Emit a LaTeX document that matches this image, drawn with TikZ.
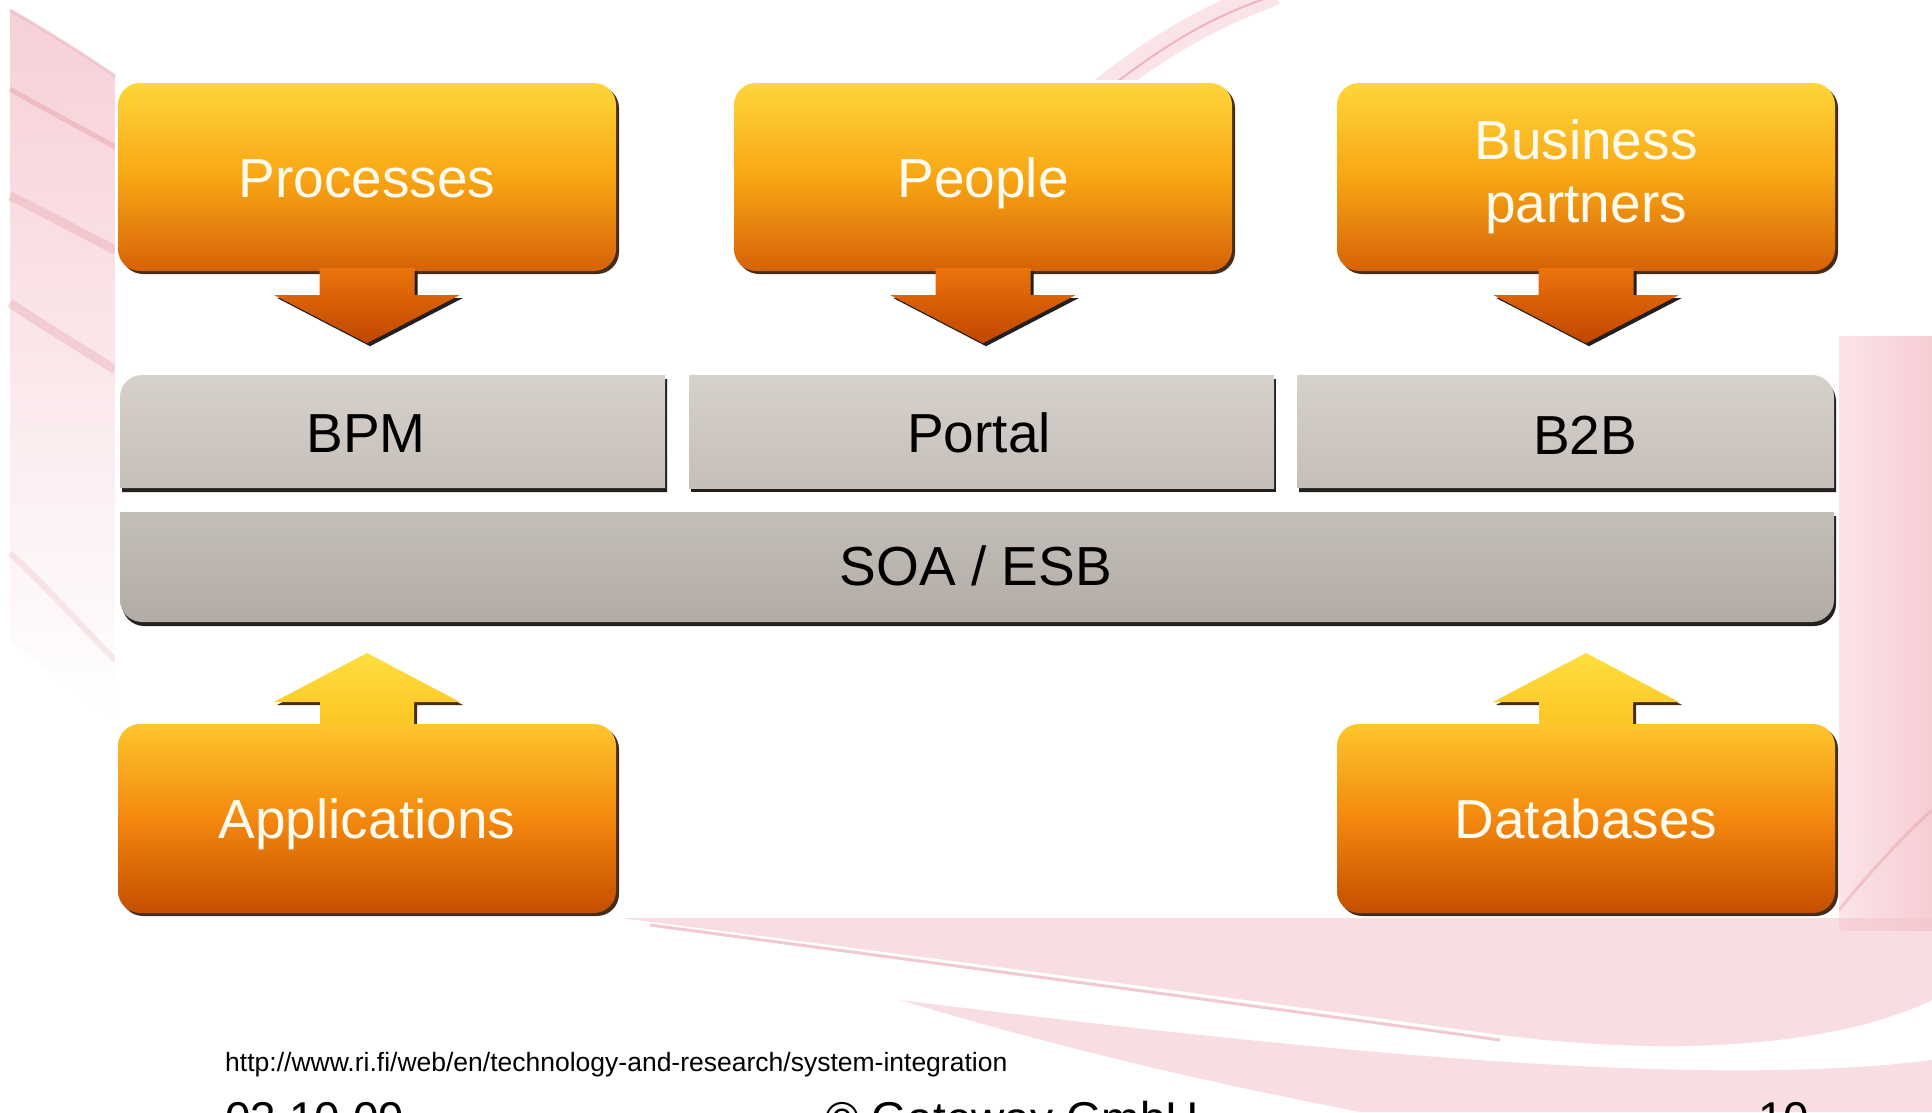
\documentclass[tikz,border=0pt]{standalone}
\usepackage{fontspec}
\setmainfont{Liberation Sans}
\usetikzlibrary{shadows}
\definecolor{oT}{RGB}{254,214,58}
\definecolor{oM}{RGB}{248,166,20}
\definecolor{oB}{RGB}{214,98,8}
\definecolor{aT}{RGB}{236,116,12}
\definecolor{aB}{RGB}{192,70,0}
\definecolor{uT}{RGB}{253,198,44}
\definecolor{uM}{RGB}{243,136,14}
\definecolor{uB}{RGB}{196,78,0}
\definecolor{uaT}{RGB}{255,222,64}
\definecolor{uaB}{RGB}{252,196,34}
\definecolor{gT}{RGB}{215,209,204}
\definecolor{gB}{RGB}{197,190,185}
\definecolor{sT}{RGB}{196,190,185}
\definecolor{sB}{RGB}{178,171,166}
\definecolor{shad}{RGB}{70,45,25}
\definecolor{gshad}{RGB}{35,32,30}
\definecolor{pk1}{RGB}{244,196,204}
\definecolor{pk2}{RGB}{228,150,164}
\definecolor{pk3}{RGB}{251,228,231}
\definecolor{txtw}{RGB}{255,251,238}
\begin{document}
\begin{tikzpicture}[x=1pt,y=-1pt,
  big/.style={font=\fontsize{55}{63}\selectfont},
  oneline/.style={text height=40pt, text depth=0pt},
  obox/.style={big, rounded corners=22pt, minimum width=498pt, minimum height=188pt,
    inner sep=0pt, text=txtw, align=center, top color=oT, bottom color=oB, middle color=oM,
    drop shadow={shadow xshift=3pt, shadow yshift=-3pt, fill=shad, opacity=1}},
  ubox/.style={big, oneline, rounded corners=22pt, minimum width=498pt, minimum height=189pt,
    inner sep=0pt, text=txtw, top color=uT, bottom color=uB, middle color=uM,
    drop shadow={shadow xshift=3pt, shadow yshift=-3pt, fill=shad, opacity=1}},
  darrow/.style={top color=aT, bottom color=aB,
    drop shadow={shadow xshift=3pt, shadow yshift=-3pt, fill=gshad, opacity=1}},
  uarrow/.style={top color=uaT, bottom color=uaB,
    drop shadow={shadow xshift=3pt, shadow yshift=-3pt, fill=shad, opacity=1}},
  gshape/.style={top color=gT, bottom color=gB,
    drop shadow={shadow xshift=2pt, shadow yshift=-4pt, fill=gshad, opacity=1}},
  sshape/.style={top color=sT, bottom color=sB,
    drop shadow={shadow xshift=2pt, shadow yshift=-4pt, fill=gshad, opacity=1}},
  gtext/.style={big, oneline, text=black, inner sep=0pt},
  foot/.style={font=\fontsize{46}{50}\selectfont, text=black, inner sep=0pt, anchor=base west}
]
\useasboundingbox (0,0) rectangle (1932,1112);
\clip (0,0) rectangle (1932,1112);
\fill[white] (0,0) rectangle (1932,1112);

% ---------- background swooshes ----------
\shade[top color=pk1!80!white, bottom color=white]
  (10,10) .. controls (45,30) and (85,55) .. (115,76) -- (115,720) -- (10,640) -- cycle;
\draw[pk2!70!white, line width=3, opacity=.6] (10,10) .. controls (45,30) and (85,55) .. (115,76);
\draw[pk2, line width=5, opacity=.4] (10,89) .. controls (50,112) and (85,130) .. (115,147);
\draw[pk2, line width=9, opacity=.3] (10,196) .. controls (50,215) and (85,235) .. (115,250);
\draw[pk2, line width=9, opacity=.3] (10,303) .. controls (50,330) and (85,350) .. (115,370);
\draw[pk2, line width=6, opacity=.2] (10,553) .. controls (50,590) and (85,630) .. (115,660);

\draw[pk1, line width=26, opacity=.45] (1090,100) .. controls (1150,52) and (1200,20) .. (1275,-8);
\draw[pk2, line width=2, opacity=.6] (1100,95) .. controls (1160,48) and (1210,15) .. (1285,-8);

\shade[left color=pk3, right color=pk1!85!white] (1839,336) rectangle (1932,930);
\draw[pk2, line width=3, opacity=.4] (1839,910) .. controls (1880,860) and (1910,830) .. (1932,810);

\fill[pk1, opacity=.55] (620,918) .. controls (950,960) and (1250,1000) .. (1500,1035)
  .. controls (1700,1060) and (1850,1040) .. (1932,1000) -- (1932,918) -- cycle;
\fill[pk1, opacity=.55] (900,1000) .. controls (1100,1060) and (1250,1090) .. (1360,1112)
  -- (1932,1112) -- (1932,1060) .. controls (1700,1090) and (1300,1050) .. (900,1000) -- cycle;
\draw[pk2, line width=3, opacity=.5] (650,925) .. controls (950,965) and (1250,1005) .. (1500,1040);

% white panel
\fill[white] (115,80) rectangle (1839,918);

% ---------- top orange boxes ----------
\node[obox, oneline] (proc) at (367,177) {Processes};
\node[obox, oneline] (peop) at (983,177) {People};
\node[obox] (bus)  at (1586,177) {Business\\partners};
\foreach \n in {proc,peop,bus}{
  \begin{scope}[shift={(\n.south)}]
    \path[darrow] (-47.5,-3) -- (-47.5,24) -- (-92.5,24) -- (0,72) -- (92.5,24) -- (47.5,24) -- (47.5,-3) -- cycle;
  \end{scope}
}

% ---------- gray layer ----------
\path[gshape] (120,488) -- (120,397) .. controls (120,385) and (130,375) .. (142,375) -- (665,375) -- (665,488) -- cycle;
\path[gshape] (689,488) -- (689,375) -- (1274,375) -- (1274,488) -- cycle;
\path[gshape] (1297,488) -- (1297,375) -- (1812,375) .. controls (1824,375) and (1834,385) .. (1834,397) -- (1834,488) -- cycle;
\path[sshape] (120,512) -- (1834,512) -- (1834,600) .. controls (1834,612) and (1824,622) .. (1812,622)
  -- (142,622) .. controls (130,622) and (120,612) .. (120,600) -- cycle;
\node[gtext] (bpm) at (366,432) {BPM};
\node[gtext] (portal) at (979,432) {Portal};
\node[gtext] (b2b) at (1585,434) {B2B};
\node[gtext] (soa) at (976,565) {SOA / ESB};

% ---------- bottom orange boxes ----------
\coordinate (appn) at (367,724);
\coordinate (dbn) at (1586,724);
\foreach \c in {appn,dbn}{
  \begin{scope}[shift={(\c)}]
    \path[uarrow] (-47,4) -- (-47,-22) -- (-93,-22) -- (0,-71) -- (93,-22) -- (47,-22) -- (47,4) -- cycle;
  \end{scope}
}
\node[ubox] (app) at (367,818.5) {Applications};
\node[ubox] (db)  at (1586,818.5) {Databases};

% ---------- footer ----------
\node[anchor=base west, font=\fontsize{26.5}{30}\selectfont, inner sep=0pt] (url) at (225,1071)
  {http://www.ri.fi/web/en/technology-and-research/system-integration};
\node[foot] (date) at (225,1134) {03.10.09};
\node[foot] (copy) at (825,1134) {© Gateway GmbH};
\node[foot] (page) at (1758,1134) {10};
\end{tikzpicture}
\end{document}
